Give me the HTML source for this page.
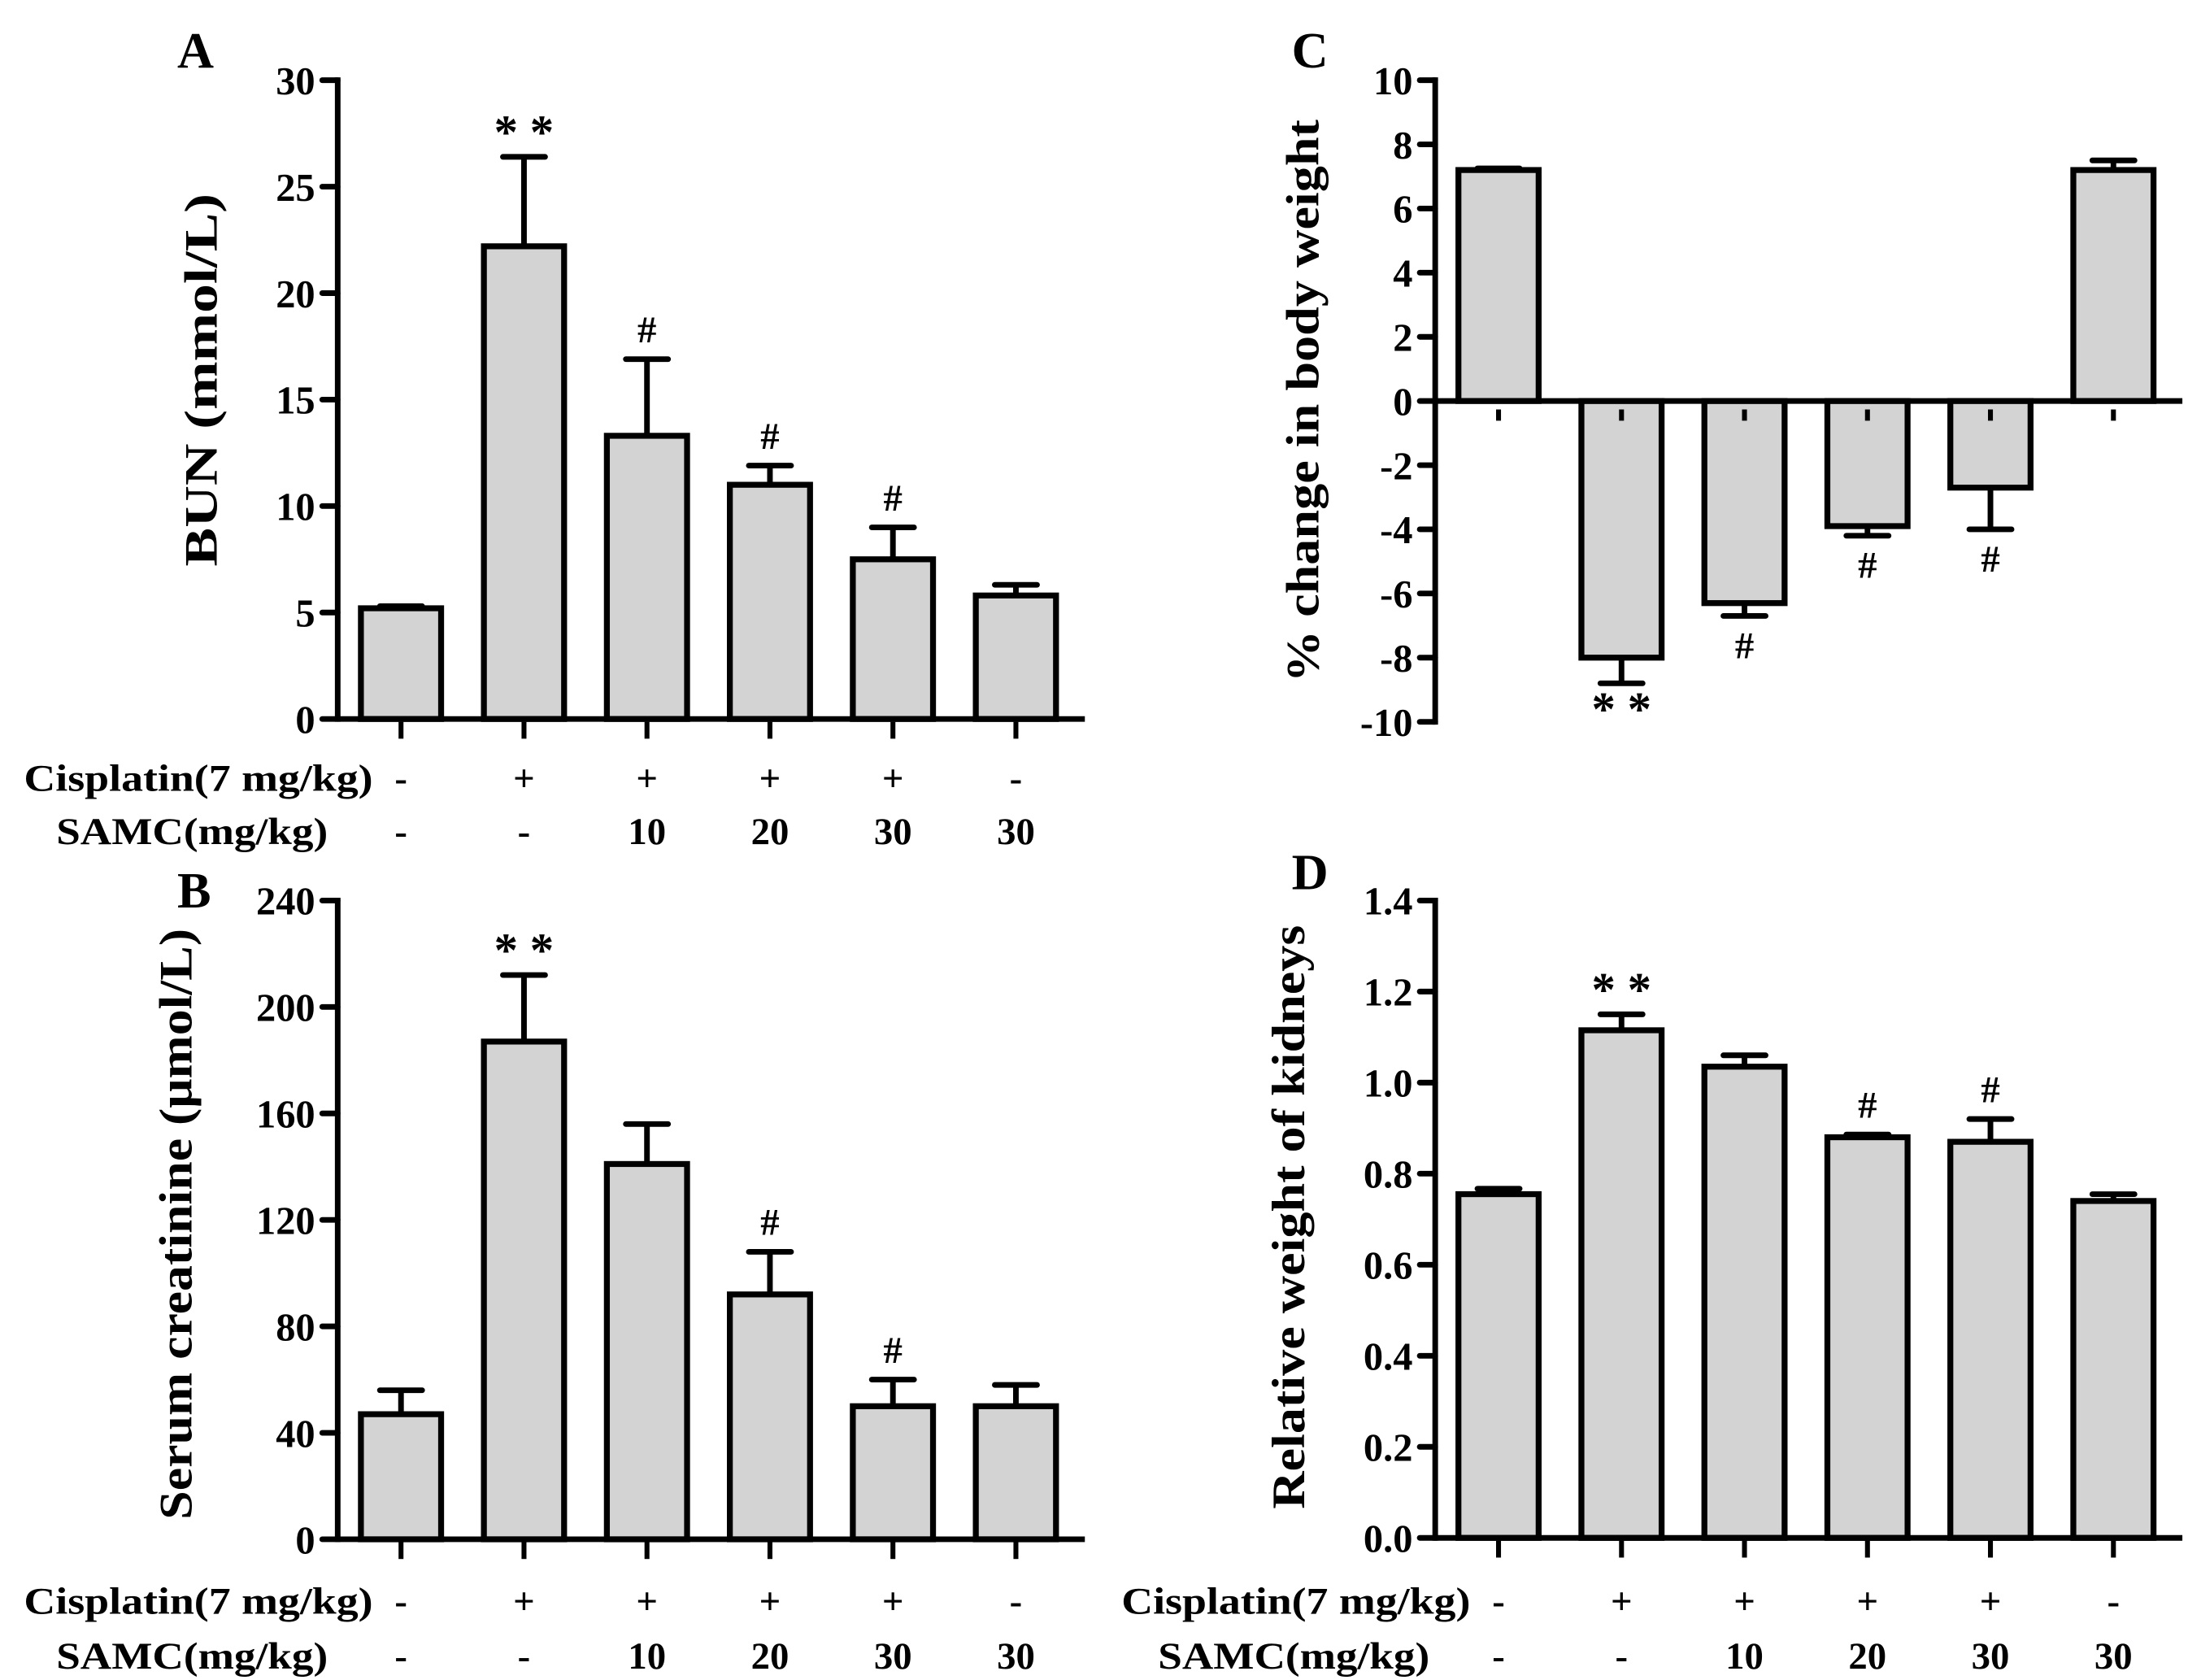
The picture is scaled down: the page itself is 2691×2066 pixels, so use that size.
<!DOCTYPE html>
<html><head><meta charset="utf-8"><style>
html,body{margin:0;padding:0;background:#fff;}
svg{display:block;}
text{font-family:"Liberation Serif",serif;font-weight:bold;fill:#000;}
</style></head><body>
<svg id="fig" width="2691" height="2066" viewBox="0 0 1555 1194" preserveAspectRatio="none" xmlns="http://www.w3.org/2000/svg"></svg>
<script>
const groups = ["g1","g2","g3","g4","g5","g6"];
const cisRow = ["-","+","+","+","+","-"];
const samcRow = ["-","-","10","20","30","30"];
const bunMean = [5.2,22.2,13.3,11.0,7.5,5.8];
const bunErr = [0.1,4.2,3.6,0.9,1.5,0.5];
const bunMarks = ["","**","#","#","#",""];
const bunTicks = [0,5,10,15,20,25,30];
const crMean = [47,187,141,92,50,50];
const crErr = [9,25,15,16,10,8];
const crMarks = ["","**","","#","#",""];
const crTicks = [0,40,80,120,160,200,240];
const bwMean = [7.2,-8.0,-6.3,-3.9,-2.7,7.2];
const bwErr = [0.05,0.8,0.4,0.3,1.3,0.3];
const bwMarks = ["","**","#","#","#",""];
const bwTicks = [-10,-8,-6,-4,-2,0,2,4,6,8,10];
const kdMean = [0.755,1.115,1.035,0.88,0.87,0.74];
const kdErr = [0.012,0.035,0.025,0.006,0.05,0.015];
const kdMarks = ["","**","","#","#",""];
const kdTicks = [0,0.2,0.4,0.6,0.8,1.0,1.2,1.4];

const NS="http://www.w3.org/2000/svg";
const svg=document.getElementById('fig');
function el(tag,attrs,parent,txt){const e=document.createElementNS(NS,tag);for(const k in attrs)e.setAttribute(k,attrs[k]);if(txt!==undefined)e.textContent=txt;(parent||svg).appendChild(e);return e;}

function panel(o){
  const g=el('g',{},svg);
  
  
  const ymin=o.ticks[0], ymax=o.ticks[o.ticks.length-1];
  const Y=v=>o.y0+(v-ymin)/(ymax-ymin)*(o.y1-o.y0);
  const X=i=>o.x0+45+i*87.4;
  const zeroY=Y(0);
  o.mean.forEach((m,i)=>{
    const cx=X(i), top=Math.min(Y(m),zeroY), h=Math.abs(Y(m)-zeroY);
    const ev=m>=0?m+o.err[i]:m-o.err[i];
    const l=el('line',{x1:cx,x2:cx,y1:Y(m),y2:Y(ev),stroke:'#000','stroke-width':4},g);
    
    
    const c=el('line',{x1:cx-15,x2:cx+15,y1:Y(ev),y2:Y(ev),stroke:'#000','stroke-width':4,'stroke-linecap':'round'},g);
    
    
    const r=el('rect',{x:cx-28.5,y:top,width:57,height:h,fill:'#d3d3d3',stroke:'#000','stroke-width':4.2},g);
    
    
    if(o.marks[i]){
      const isHash=o.marks[i]=='#';
      const ty=m>=0?Y(ev)-(isHash?12:6):Y(ev)+(isHash?30:30);
      const t=el('text',{x:cx,y:ty,'text-anchor':'middle','font-size':isHash?27:34,'font-weight':isHash?'normal':'bold'},g,isHash?'#':'* *');
      
      
    }
    const tk=el('line',{x1:cx,x2:cx,y1:zeroY+(o.neg?6:2),y2:zeroY+14,stroke:'#000','stroke-width':3.5},g);
    
    
  });
  const ya=el('line',{x1:o.x0,x2:o.x0,y1:o.y1-2,y2:o.y0+2,stroke:'#000','stroke-width':4},g);
  
  
  const xa=el('line',{x1:o.x0,x2:o.x0+531,y1:zeroY,y2:zeroY,stroke:'#000','stroke-width':4},g);
  
  
  o.ticks.forEach(v=>{
    const t=el('line',{x1:o.x0-11,x2:o.x0,y1:Y(v),y2:Y(v),stroke:'#000','stroke-width':4,'stroke-linecap':'round'},g);
    
    
    const lab=o.fmt?o.fmt(v):String(v);
    const tx=el('text',{x:o.x0-16,y:Y(v)+10,'text-anchor':'end','font-size':28},g,lab);
    
    
  });
  const yt=el('text',{x:0,y:0,'text-anchor':'middle','font-size':33,textLength:o.tlen,lengthAdjust:'spacingAndGlyphs',transform:`translate(${o.tx},${o.ty}) rotate(-90)`},g,o.title);
  
  
  const pl=el('text',{x:o.lx,y:o.ly,'font-size':36},g,o.letter);
  
  
  if(o.rows){
    const c1=el('text',{x:o.rows.cx,y:o.rows.y1,'font-size':27,textLength:o.rows.cw,lengthAdjust:'spacingAndGlyphs'},g,'Cisplatin(7 mg/kg)');
    
    
    const c2=el('text',{x:o.rows.sx,y:o.rows.y2,'font-size':27,textLength:o.rows.sw,lengthAdjust:'spacingAndGlyphs'},g,'SAMC(mg/kg)');
    
    
    groups.forEach((gname,i)=>{
      const a=el('text',{x:X(i),y:o.rows.y1,'text-anchor':'middle','font-size':27},g,cisRow[i]);
      
      
      const b=el('text',{x:X(i),y:o.rows.y2,'text-anchor':'middle','font-size':27},g,samcRow[i]);
      
      
    });
  }
}
panel({name:'panel-a-bun',letter:'A',lx:126,ly:48,x0:240,y0:511,y1:57,ticks:bunTicks,mean:bunMean,err:bunErr,marks:bunMarks,
  title:'BUN (mmol/L)',tx:154,ty:270,tlen:265,rows:{y1:562,y2:600,cx:17,cw:248,sx:40,sw:193}});
panel({name:'panel-b-creatinine',letter:'B',lx:126,ly:645,x0:240,y0:1094,y1:640,ticks:crTicks,mean:crMean,err:crErr,marks:crMarks,
  title:'Serum creatinine (\u03bcmol/L)',tx:136,ty:870,tlen:420,rows:{y1:1147,y2:1186,cx:17,cw:248,sx:40,sw:193}});
panel({name:'panel-c-body-weight',letter:'C',lx:918,ly:48,x0:1020,y0:513,y1:57,ticks:bwTicks,mean:bwMean,err:bwErr,marks:bwMarks,neg:true,
  title:'% change in body weight',tx:937,ty:285,tlen:400});
panel({name:'panel-d-kidney-weight',letter:'D',lx:918,ly:632,x0:1020,y0:1093,y1:640,ticks:kdTicks,mean:kdMean,err:kdErr,marks:kdMarks,
  fmt:v=>v.toFixed(1),title:'Relative weight of kidneys',tx:927,ty:865,tlen:415,rows:{y1:1147,y2:1186,cx:797,cw:248,sx:823,sw:193}});
</script>
</body></html>
